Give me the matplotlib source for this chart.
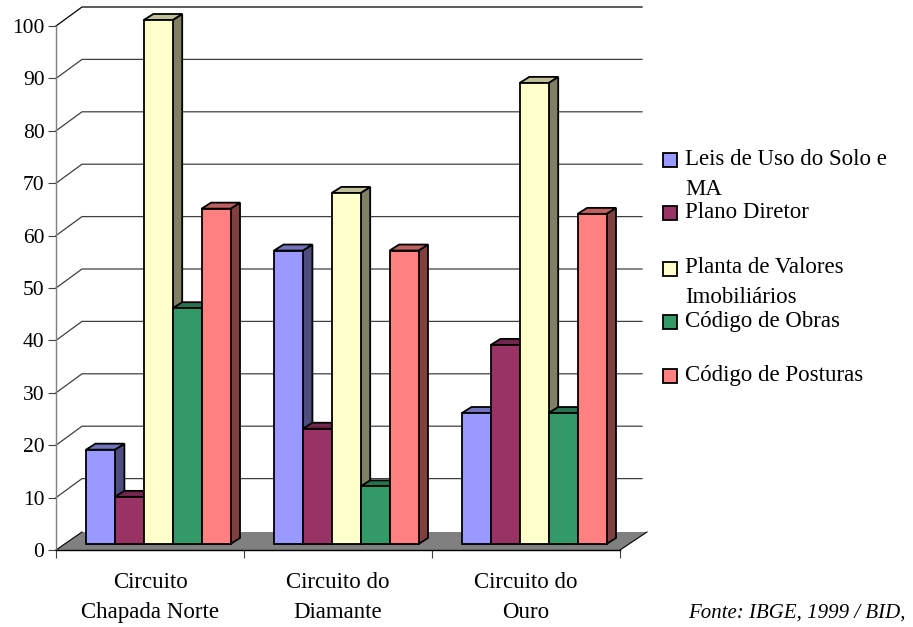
import matplotlib
matplotlib.use("Agg")
import matplotlib.pyplot as plt
from matplotlib.patches import Rectangle

W, H = 913, 627

categories = ["Circuito\nChapada Norte", "Circuito do\nDiamante", "Circuito do\nOuro"]
series_names = ["Leis de Uso do Solo e\nMA", "Plano Diretor", "Planta de Valores\nImobiliários",
                "Código de Obras", "Código de Posturas"]
leis = [18, 56, 25]
plano = [9, 22, 38]
planta = [100, 67, 88]
obras = [45, 11, 25]
posturas = [64, 56, 63]
series = [leis, plano, planta, obras, posturas]
y_ticks = [0, 10, 20, 30, 40, 50, 60, 70, 80, 90, 100]

front_colors = ["#9999FF", "#993366", "#FFFFCC", "#339966", "#FF8080"]
side_colors = ["#4D4D80", "#4D1A33", "#808066", "#1A4D33", "#804040"]
top_colors = ["#7373BF", "#73264D", "#BFBF99", "#267350", "#BF6060"]

plt.rcParams["font.family"] = ["Liberation Serif", "DejaVu Serif"]
plt.rcParams["font.size"] = 13.5

fig = plt.figure(figsize=(W / 100, H / 100), dpi=100)
ax = fig.add_axes([56 / W, (H - 550) / H, 564 / W, 524 / H])
ax.set_xlim(0, 3)
ax.set_ylim(0, 100)
ax.patch.set_visible(False)

# scale of the axes, in pixels per unit
px_x = 188.0
px_y = 5.24
wall_dx = 26 / px_x
wall_dy = 19 / px_y
floor_dy = 18 / px_y
bar_dx = 9.5 / px_x
bar_dy = 6 / px_y
bar_w = 28.9 / px_x
bar_start = 30 / px_x

# back wall grid
for v in y_ticks[1:]:
    c = "black" if v == 100 else "#404040"
    ax.plot([0, wall_dx, 3 + 22 / px_x], [v, v + wall_dy, v + wall_dy], color=c, lw=0.9,
            clip_on=False, zorder=1, solid_joinstyle="miter")

# floor
ax.fill([0, wall_dx, 3 + 27 / px_x, 3], [0, floor_dy, floor_dy, 0], facecolor="#808080",
        edgecolor="none", clip_on=False, zorder=2)
ax.plot([3, 3 + 27 / px_x], [0, floor_dy], color="black", lw=0.8, clip_on=False, zorder=2)
ax.plot([0, wall_dx], [0, floor_dy], color="black", lw=0.8, clip_on=False, zorder=2)

# bars, left to right so each front hides the side of the previous one
z = 3
for g in range(len(categories)):
    for s, vals in enumerate(series):
        x0 = g + bar_start + s * bar_w
        x1 = x0 + bar_w
        v = vals[g] + bar_dy
        ax.fill([x1, x1 + bar_dx, x1 + bar_dx, x1], [bar_dy, 2 * bar_dy, v + bar_dy, v],
                facecolor=side_colors[s], edgecolor="black", lw=1.3, clip_on=False, zorder=z)
        ax.fill([x0, x0 + bar_dx, x1 + bar_dx, x1], [v, v + bar_dy, v + bar_dy, v],
                facecolor=top_colors[s], edgecolor="black", lw=1.3, clip_on=False, zorder=z)
        ax.bar(x0, vals[g], width=bar_w, bottom=bar_dy, align="edge", color=front_colors[s],
               edgecolor="black", linewidth=1.3, clip_on=False, zorder=z + 0.5)
        z += 1

for side in ["top", "right"]:
    ax.spines[side].set_visible(False)
ax.spines["left"].set_color("#808080")
ax.spines["left"].set_linewidth(1.0)
ax.spines["bottom"].set_color("black")
ax.spines["bottom"].set_linewidth(1.0)
ax.spines["bottom"].set_zorder(2.5)

ax.set_yticks(y_ticks)
ax.tick_params(axis="y", length=5.8, width=0.8, color="#404040", pad=2.5, labelsize=15.5)
ax.set_xticks([0, 1, 2, 3])
ax.set_xticklabels([])
ax.tick_params(axis="x", which="major", length=6, width=0.8, color="#404040")
ax.set_xticks([0.5, 1.5, 2.5], minor=True)
ax.set_xticklabels(categories, minor=True, linespacing=1.58, fontsize=16.5)
ax.tick_params(axis="x", which="minor", length=0, pad=15.5)

# legend, placed by hand because the wrapped labels overlap the row pitch
box_tops = [153, 206, 262, 315, 369]
text_bases = [165, 218, 273, 327, 381]
for s, name in enumerate(series_names):
    fig.add_artist(Rectangle((663 / W, 1 - (box_tops[s] + 13.5) / H), 13.5 / W, 13.5 / H,
                             facecolor=front_colors[s], edgecolor="black", lw=1.3,
                             transform=fig.transFigure))
    for i, line in enumerate(name.split("\n")):
        fig.text(685 / W, 1 - (text_bases[s] + i * 30) / H, line, ha="left", va="baseline",
                 fontsize=16.5)

fig.text(688 / W, 1 - 618 / H, "Fonte: IBGE, 1999 / BID,", ha="left", va="baseline",
         style="italic", fontsize=15)

fig.savefig("out.png", dpi=100)
